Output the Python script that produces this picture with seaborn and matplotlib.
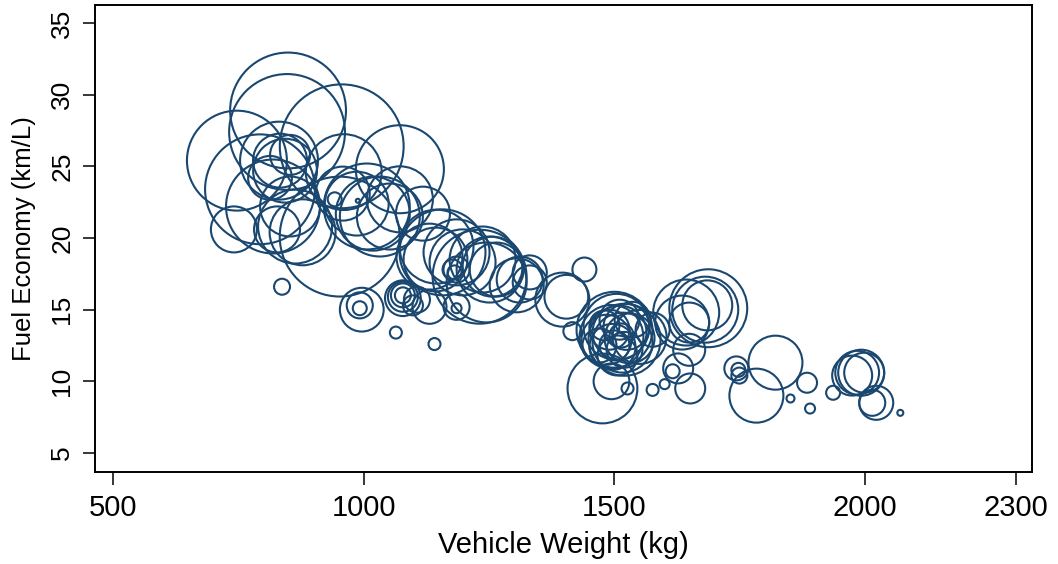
import pandas as pd
import matplotlib
matplotlib.use("Agg")
import matplotlib.pyplot as plt
import seaborn as sns

# vehicle weight (kg), fuel economy (km/L), bubble weight (area units)
weight = [
    849, 847, 956, 747, 793, 831, 960, 1072, 741, 837,
    952, 833, 843, 813, 853, 863, 827, 878, 853, 1006,
    1018, 986, 1052, 958, 942, 988, 1118, 1072, 819, 1032,
    1145, 1185, 1157, 1131, 1197, 1237, 1257, 1245, 1251, 1265,
    1231, 1305, 1311, 1331, 1177, 1181, 1185, 996, 992, 992,
    1078, 1078, 1078, 1078, 1098, 1106, 1131, 1185, 1185, 1064,
    1141, 1143, 1331,
    1404, 1396, 1440, 1416,
    1504, 1494, 1510, 1516, 1484, 1524, 1496, 1510, 1490, 1520,
    1530, 1500, 1514, 1480, 1536, 1506, 1470, 1494, 1476, 1526,
    1500, 1520, 1550,
    1576, 1635, 1687, 1681, 1685, 1649, 1649, 1627, 1651, 1616,
    1600, 1576, 1643,
    1743, 1747, 1749, 1821, 1783, 1851, 1884, 1890, 1936, 1984,
    1992, 1998, 1974, 2022, 2014, 2070,
    815, 1691, 2072, 2084, 2124,
]
kml = [
    28.9, 27.4, 26.4, 25.4, 23.4, 25.4, 24.6, 24.8, 20.6, 16.6,
    20.1, 25.4, 24.7, 24.2, 25.8, 20.8, 20.6, 20.4, 22.2, 22.2,
    21.7, 22.4, 21.5, 23.1, 22.7, 22.6, 21.7, 22.7, 22.2, 21.5,
    19.4, 19.0, 19.0, 18.7, 18.3, 18.5, 18.0, 16.9, 17.8, 17.8,
    17.3, 16.7, 17.1, 17.6, 17.8, 17.6, 17.8, 15.0, 15.1, 15.3,
    15.8, 15.9, 16.0, 16.0, 15.3, 15.7, 15.2, 15.2, 15.1, 13.4,
    12.6, 18.5, 16.9,
    15.9, 15.7, 17.8, 13.5,
    13.8, 13.1, 13.4, 12.7, 12.9, 13.8, 12.4, 14.3, 13.6, 12.2,
    13.0, 12.5, 13.2, 13.9, 14.3, 11.8, 12.5, 10.0, 9.5, 9.5,
    13.6, 12.9, 13.1,
    13.6, 14.1, 15.1, 15.0, 15.3, 14.1, 12.2, 10.9, 9.5, 10.7,
    9.8, 9.4, 14.8,
    10.9, 10.8, 10.4, 11.3, 9.0, 8.8, 9.9, 8.1, 9.2, 10.6,
    10.6, 10.6, 10.4, 8.5, 8.5, 7.8,
    29.6, 10.4, 8.3, 8.3, 8.4,
]
bubble = [
    336, 336, 384, 250, 302, 152, 144, 194, 53, 6.4,
    360, 73, 102, 48, 40, 137, 53, 109, 90, 185,
    137, 102, 109, 73, 4.9, 0.4, 73, 109, 221, 160,
    137, 109, 185, 109, 109, 109, 90, 160, 109, 73,
    221, 73, 53, 29, 10, 4.9, 17, 48, 4.9, 17,
    32, 22.5, 14.4, 6.4, 10, 17, 29, 17, 2.5, 3.6,
    3.6, 102, 29,
    48, 73, 14.4, 8.1,
    109, 102, 73, 90, 62.5, 53, 53, 40, 40, 32,
    62.5, 22.5, 14.4, 22.5, 32, 40, 29, 32, 122, 3.6,
    144, 130, 73,
    29, 73, 152, 109, 62.5, 40, 25.6, 22.5, 22.5, 4.9,
    2.5, 3.6, 109,
    14.4, 4.9, 6.4, 73, 73, 1.6, 10, 2.5, 4.9, 48,
    53, 40, 40, 29, 17, 0.9,
    0.0, 0.0, 0.0, 0.0, 0.0,
]

x_ticks = [500, 1000, 1500, 2000, 2300]
y_ticks = [5, 10, 15, 20, 25, 30, 35]
navy = "#1a476f"

df = pd.DataFrame({"weight": weight, "kml": kml, "bubble": bubble})

sns.set_style("ticks")
plt.rcParams["font.family"] = ["Liberation Sans", "DejaVu Sans"]

fig = plt.figure(figsize=(10.58, 5.64), dpi=100)
ax = fig.add_axes([0.0898, 0.1631, 0.8858, 0.8280])

bmax = max(bubble)
sns.scatterplot(
    data=df, x="weight", y="kml", size="bubble",
    sizes=(0, 20.7 * bmax), size_norm=(0, bmax),
    color=navy, legend=False, ax=ax,
)
pts = ax.collections[0]
pts.set_facecolor("none")
pts.set_edgecolor(navy)
pts.set_linewidth(1.5)

ax.set_xlim(464, 2333)
ax.set_ylim(3.67, 36.26)
ax.set_xticks(x_ticks)
ax.set_yticks(y_ticks)
ax.tick_params(axis="both", direction="out", length=9, width=1.1,
               colors="black", labelcolor="black")
ax.tick_params(axis="x", labelsize=21, pad=7)
ax.tick_params(axis="y", labelsize=19, pad=6)
for lab in ax.get_yticklabels():
    lab.set_rotation(90)
    lab.set_va("center")
for sp in ax.spines.values():
    sp.set_visible(True)
    sp.set_linewidth(1.4)
    sp.set_color("black")

ax.set_xlabel("Vehicle Weight (kg)", fontsize=21, labelpad=6, color="black")
ax.set_ylabel("Fuel Economy (km/L)", fontsize=18.5, labelpad=10, color="black")

fig.savefig("out.png", dpi=100)
